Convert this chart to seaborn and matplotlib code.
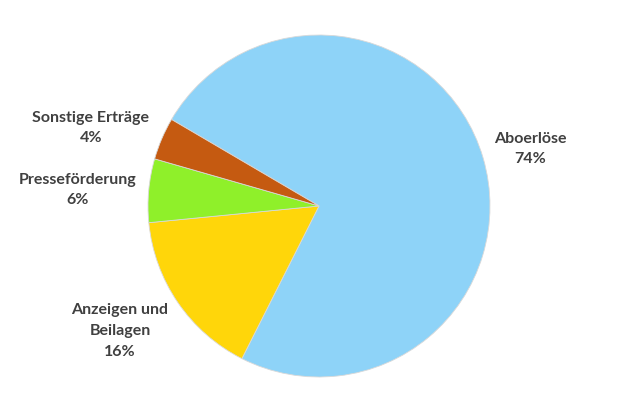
import matplotlib
matplotlib.use("Agg")
import matplotlib.pyplot as plt
import seaborn as sns

# revenue shares (percent), clockwise from upper left
categories = ["Aboerlöse", "Anzeigen und\nBeilagen", "Presseförderung", "Sonstige Erträge"]
shares = [74, 16, 6, 4]
colors = ["#8ED3F8", "#FFD60A", "#8FF02A", "#C55A11"]

# label anchor points in pixel coordinates (x, y from top)
label_pos = [(530, 149), (120, 331), (78, 190), (91, 128)]

sns.set_theme(style="white")
plt.rcParams["font.family"] = ["Lato", "DejaVu Sans"]

fig = plt.figure(figsize=(6.4, 4.13), dpi=100)
ax = fig.add_axes([0, 0, 1, 1])
ax.pie(shares, colors=colors, startangle=149.6, counterclock=False,
       center=(319, 413 - 206), radius=171,
       wedgeprops=dict(edgecolor="#d9d9d9", linewidth=0.6))
ax.set_xlim(0, 640)
ax.set_ylim(0, 413)
ax.set_aspect("equal")
ax.axis("off")

for cat, val, (x, y) in zip(categories, shares, label_pos):
    ax.text(x, 413 - y, f"{cat}\n{val}%", ha="center", va="center",
            fontsize=11.5, fontweight="bold", color="#404040", linespacing=1.6)

fig.savefig("out.png", dpi=100)
